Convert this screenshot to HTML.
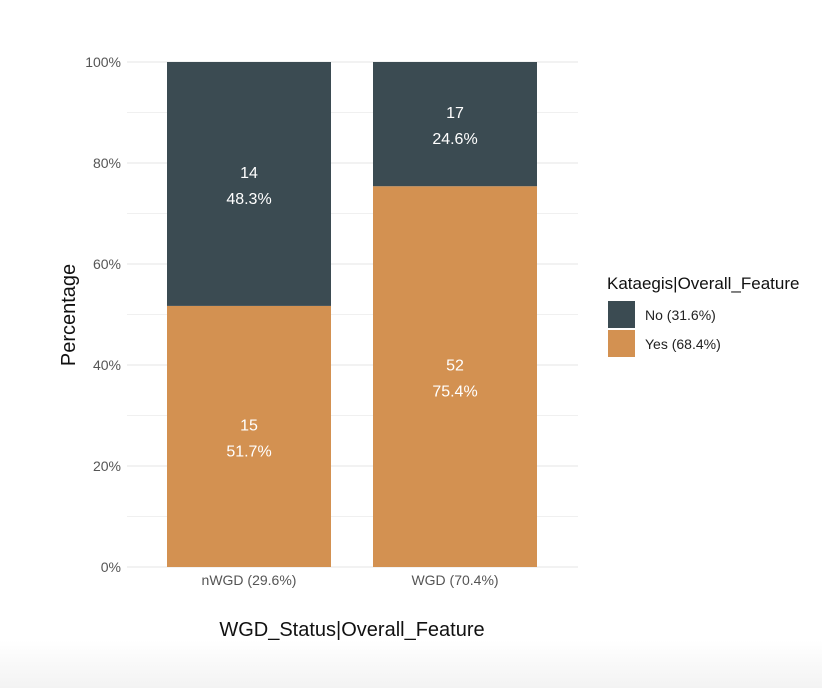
<!DOCTYPE html>
<html><head><meta charset="utf-8"><style>
body{margin:0;width:822px;height:688px;overflow:hidden;background:linear-gradient(to bottom,#fff 0,#fff 640px,#f3f3f3 688px);}
svg{display:block}
.c{font-family:"Liberation Sans Narrow","Liberation Sans",sans-serif;}
.n{font-family:"Liberation Sans",sans-serif;}
</style></head><body>
<svg id="chart" width="822" height="688"></svg>
<script>
const categories=["nWGD (29.6%)","WGD (70.4%)"];
const yesCounts=[15,52];
const noCounts=[14,17];
const yesPct=[51.7,75.4];
const noPct=[48.3,24.6];
const yTicks=[0,20,40,60,80,100];
const legendLabels=["No (31.6%)","Yes (68.4%)"];
const colNo="#3b4b52",colYes="#d39151";
const NS="http://www.w3.org/2000/svg";
const svg=document.getElementById('chart');
const X0=127,X1=578,Y0=567,Y1=62;
const y=v=>Y0-(v/100)*(Y0-Y1);
const xc=i=>249+i*206;
const barW=164;
function el(t,a,txt){const e=document.createElementNS(NS,t);for(const k in a)e.setAttribute(k,a[k]);if(txt!==undefined)e.textContent=txt;svg.appendChild(e);return e;}
for(let v=0;v<=100;v+=10){
 const g=el('line',{x1:X0,x2:X1,y1:y(v),y2:y(v),stroke:v%20?'#f0f0f0':'#e4e4e4','stroke-width':1});
 
 
}
yTicks.forEach(v=>{
 const t=el('text',{x:X0-6,y:y(v)+5,'text-anchor':'end','font-size':14,fill:'#555',class:'c'},v+'%');
 
 
});
categories.forEach((c,i)=>{
 const cx=xc(i);
 const yp=yesPct[i];
 const r1=el('rect',{x:cx-barW/2,y:y(yp),width:barW,height:Y0-y(yp),fill:colYes});
 
 
 const r2=el('rect',{x:cx-barW/2,y:y(100),width:barW,height:y(yp)-y(100),fill:colNo});
 
 
 const ym=y(yp/2), yn=y(yp+noPct[i]/2);
 [[ym,yesCounts[i],yesPct[i]],[yn,noCounts[i],noPct[i]]].forEach(([yy,cnt,p])=>{
  const a=el('text',{x:cx,y:yy-6,'text-anchor':'middle','font-size':16,fill:'#fff',class:'n'},cnt);
  
  
  const b=el('text',{x:cx,y:yy+20,'text-anchor':'middle','font-size':16,fill:'#fff',class:'n'},p.toFixed(1)+'%');
  
  
 });
 const xl=el('text',{x:cx,y:585,'text-anchor':'middle','font-size':14,fill:'#555',class:'c'},c);
 
 
});
const xt=el('text',{x:352,y:636,'text-anchor':'middle','font-size':20,fill:'#111',class:'c'},'WGD_Status|Overall_Feature');


const yt=el('text',{x:0,y:0,'text-anchor':'middle','font-size':20,fill:'#111',class:'c',transform:'translate(75,315) rotate(-90)'},'Percentage');


const lt=el('text',{x:607,y:289,'font-size':17,fill:'#111',class:'c'},'Kataegis|Overall_Feature');


[colNo,colYes].forEach((col,i)=>{
 const r=el('rect',{x:608,y:301+i*29,width:27,height:27,fill:col});
 
 
 const t=el('text',{x:645,y:320+i*29,'font-size':14,fill:'#222',class:'c'},legendLabels[i]);
 
 
});
</script>
</body></html>
